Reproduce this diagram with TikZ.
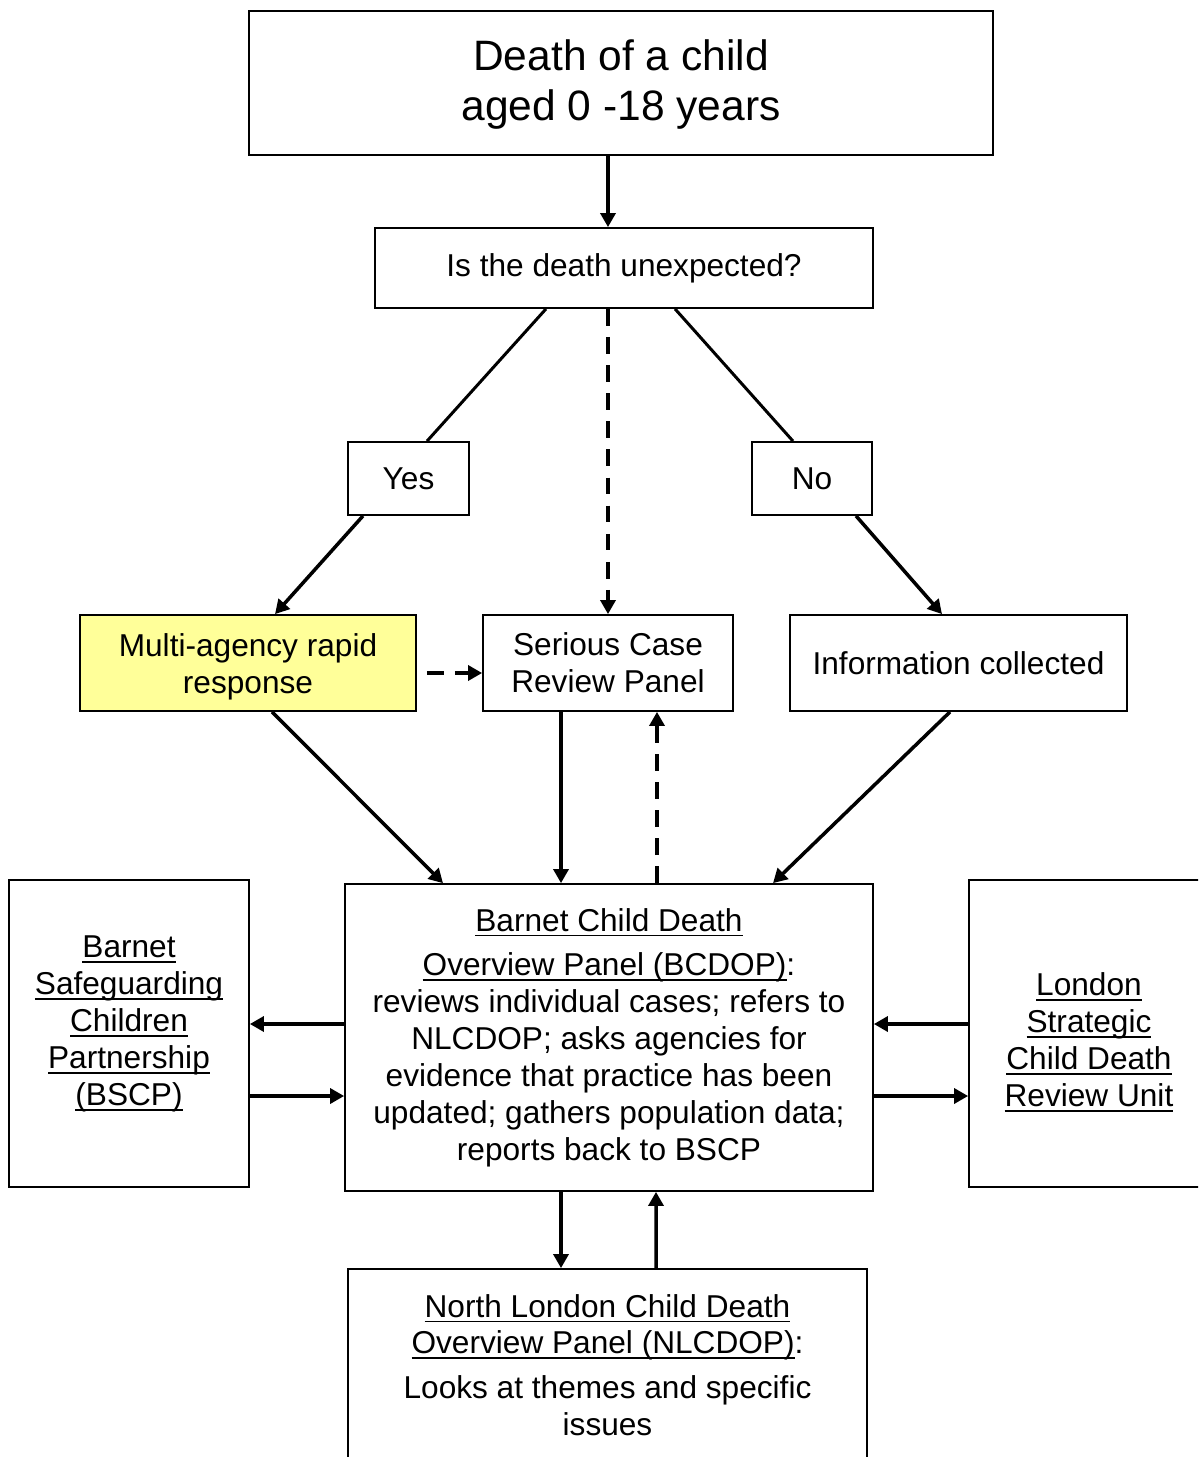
\documentclass[tikz,border=0pt]{standalone}
\usepackage{fontspec}
\setmainfont{Liberation Sans}
\usetikzlibrary{arrows.meta,calc}
\definecolor{rapidyellow}{HTML}{FFFF99}
\newcommand{\ulin}[1]{\setbox0=\hbox{#1}\rlap{\rule[-3.1pt]{\wd0}{1.1pt}}\box0}

\begin{document}
\begin{tikzpicture}[x=0.02cm, y=-0.02cm,
        box/.style={draw, line width=1pt, inner sep=0pt, align=center, font=\fontsize{18}{21}\selectfont},
        arr/.style={line width=2pt, -{Triangle[length=8pt, width=8.5pt]}},
        dasharr/.style={arr, dash pattern=on 9.5pt off 6.5pt},
        link/.style={line width=1.7pt}]
        \useasboundingbox (0, 0) rectangle (1198, 1457);
        \clip (0, 0) rectangle (1198, 1457);
        \node[box, minimum width=14.88cm, minimum height=2.88cm, font=\fontsize{24.2}{28.5}\selectfont] (title) at (621, 83) {\rule{0pt}{19pt}Death of a child\\aged 0 -18 years};
        \node[box, minimum width=9.96cm, minimum height=1.6cm] (q) at (624, 268) {Is the death unexpected?};
        \node[box, minimum width=2.42cm, minimum height=1.46cm] (yes) at (408.5, 478.5) {Yes};
        \node[box, minimum width=2.4cm, minimum height=1.46cm] (no) at (812, 478.5) {No};
        \node[box, fill=rapidyellow, minimum width=6.72cm, minimum height=1.92cm] (marr) at (248, 663) {\rule{0pt}{17.5pt}Multi-agency rapid\\response};
        \node[box, minimum width=5cm, minimum height=1.92cm] (scrp) at (608, 663) {Serious Case\\Review Panel};
        \node[box, minimum width=6.74cm, minimum height=1.92cm] (info) at (958.5, 663) {Information collected};
        \node[box, minimum width=10.56cm, minimum height=6.14cm] (bcdop) at (609, 1037.5) {\ulin{Barnet Child Death}\\[4.5pt]
            \ulin{Overview Panel (BCDOP)}:\\reviews individual cases; refers to\\NLCDOP; asks agencies for\\
            evidence that practice has been\\updated; gathers population data;\\reports back to BSCP};
        \node[box, minimum width=4.8cm, minimum height=6.14cm] (bscp) at (129, 1033.5) {};
        \node[align=center, inner sep=0pt, font=\fontsize{18}{21}\selectfont] (bscptext) at ($(bscp.center)+(0, -9.5)$) {\ulin{Barnet}\\\ulin{Safeguarding}\\\ulin{Children}\\\ulin{Partnership}\\\ulin{(BSCP)}};
        \node[box, minimum width=4.8cm, minimum height=6.14cm] (lscdru) at (1089, 1033.5) {};
        \node[align=center, inner sep=0pt, font=\fontsize{18}{21}\selectfont] (lscdrutext) at ($(lscdru.center)+(0, 8.5)$) {\ulin{London}\\\ulin{Strategic}\\\ulin{Child Death}\\\ulin{Review Unit}};
        \node[box, minimum width=10.38cm, minimum height=3.84cm] (nlcdop) at (607.5, 1365) {\ulin{North London Child Death}\\
            \ulin{Overview Panel (NLCDOP)}:\\[4.5pt]Looks at themes and specific\\issues};

        \draw[arr] (title.south -| scrp.north) -- (q.north -| scrp.north);
        \draw[link] ($(q.south)+(-78, 0)$) -- ($(yes.north)+(18.5, 0)$);
        \draw[arr] ($(yes.south)+(-45.5, 0)$) -- ($(marr.north)+(27, 0)$);
        \draw[dasharr] (q.south -| scrp.north) -- (scrp.north);
        \draw[link] ($(q.south)+(51, 0)$) -- ($(no.north)+(-19, 0)$);
        \draw[arr] ($(no.south)+(44, 0)$) -- ($(info.north)+(-16.5, 0)$);
        \draw[dasharr] ($(marr.east)+(10, 10)$) -- ($(scrp.west)+(0, 10)$);
        \draw[arr] ($(marr.south)+(24, 0)$) -- ($(bcdop.north)+(-166, 0)$);
        \draw[arr] ($(scrp.south)+(-47, 0)$) -- ($(bcdop.north)+(-48, 0)$);
        \draw[dasharr] ($(bcdop.north)+(48, 0)$) -- ($(scrp.south)+(49, 0)$);
        \draw[arr] ($(info.south)+(-8.5, 0)$) -- ($(bcdop.north)+(164, 0)$);
        \draw[arr] ($(bcdop.west)+(0, -13.5)$) -- ($(bscp.east)+(0, -9.5)$);
        \draw[arr] ($(bscp.east)+(0, 62.5)$) -- ($(bcdop.west)+(0, 58.5)$);
        \draw[arr] ($(lscdru.west)+(0, -9.5)$) -- ($(bcdop.east)+(0, -13.5)$);
        \draw[arr] ($(bcdop.east)+(0, 58.5)$) -- ($(lscdru.west)+(0, 62.5)$);
        \draw[arr] ($(bcdop.south)+(-48, 0)$) -- ($(nlcdop.north)+(-46.5, 0)$);
        \draw[arr] ($(nlcdop.north)+(48.5, 0)$) -- ($(bcdop.south)+(47, 0)$);
    \end{tikzpicture}
\end{document}
